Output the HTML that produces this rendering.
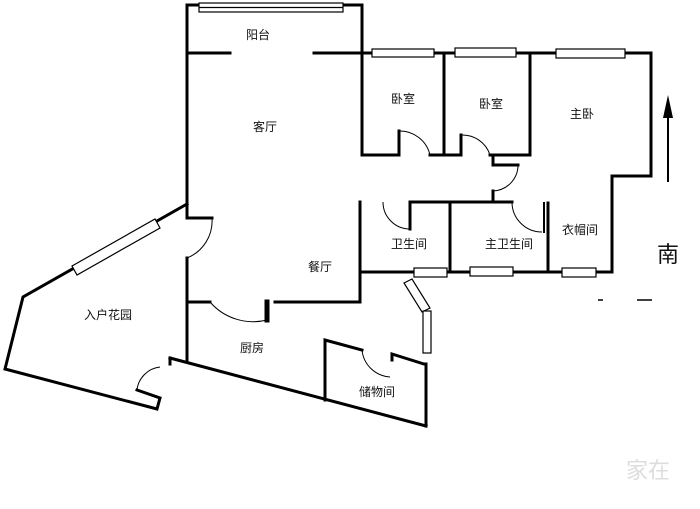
<!DOCTYPE html>
<html><head><meta charset="utf-8"><style>
html,body{margin:0;padding:0;background:#fff;}
svg{display:block}
text{font-family:"Liberation Sans","Noto Sans CJK SC",sans-serif;font-size:12px;fill:#111;text-anchor:middle;}
</style></head><body>
<svg width="700" height="509" viewBox="0 0 700 509" xmlns="http://www.w3.org/2000/svg">
<g stroke="#000" stroke-width="3" fill="none" stroke-linecap="square">
<!-- outer left/top -->
<polyline points="187,5 187,215"/>
<polyline points="187,5 362,5 362,155"/>
<polyline points="187,53 230,53"/>
<polyline points="314,53 651,53 651,176 612,176 612,272"/>
<!-- bedrooms -->
<polyline points="362,155 399,155 399,131"/>
<polyline points="430,155 444,155"/>
<line x1="444" y1="53" x2="444" y2="155"/>
<polyline points="444,155 461,155 461,135"/>
<polyline points="490,155 530,155 530,53"/>
<polyline points="493,155 493,165 518,165"/>
<line x1="493" y1="191" x2="493" y2="202"/>
<!-- bathrooms -->
<polyline points="410,229 410,202 512,202"/>
<line x1="360" y1="202" x2="360" y2="302"/>
<line x1="450" y1="202" x2="450" y2="272"/>
<line x1="544" y1="203" x2="544" y2="232" stroke-width="2"/>
<line x1="548" y1="203" x2="548" y2="272"/>
<line x1="360" y1="272" x2="612" y2="272"/>
<!-- left side -->
<line x1="187" y1="258" x2="187" y2="362"/>
<line x1="187" y1="218" x2="212" y2="218"/>
<polyline points="187,204 23,297 5,369 157,409 160,398 137,390"/>
<polyline points="170,358 170,364"/>
<line x1="170" y1="358" x2="426" y2="426"/>
<!-- kitchen/dining -->
<line x1="187" y1="302" x2="210" y2="302"/>
<line x1="267" y1="302" x2="267" y2="320" stroke-width="5"/>
<line x1="275" y1="302" x2="360" y2="302"/>
<!-- storage -->
<polyline points="325,400 325,340 362,350"/>
<polyline points="392,360 392,354 424,364 426,364 426,426"/>
</g>
<!-- door arcs -->
<g stroke="#000" stroke-width="1" fill="none">
<path d="M399,131 A31,31 0 0 1 430,155"/>
<path d="M461,135 A29,29 0 0 1 490,155"/>
<path d="M518,165 A26,26 0 0 1 493,191"/>
<path d="M383,202 A27,27 0 0 0 410,229"/>
<path d="M512,202 A30,30 0 0 0 542,232"/>
<path d="M212,218 A40,40 0 0 1 187,258"/>
<path d="M210,302 A57,57 0 0 0 267,320"/>
<path d="M137,390 A26,26 0 0 1 160,367"/>
<path d="M362,350 A30,30 0 0 0 390,377"/>
</g>
<!-- windows -->
<g stroke="#000" stroke-width="1.2" fill="#fff">
<rect x="199" y="3" width="144" height="9"/>
<line x1="199" y1="7.5" x2="343" y2="7.5"/>
<rect x="372" y="49" width="62" height="8"/>
<rect x="455" y="48" width="61" height="9"/>
<rect x="556" y="49" width="69" height="9"/>
<rect x="414" y="268" width="33" height="9"/>
<rect x="470" y="267" width="43" height="9"/>
<rect x="562" y="268" width="34" height="9"/>
<polygon points="72,266 155,219 160,228 77,275"/>
<polygon points="404,283 412,279 430,308 422,312"/>
<rect x="423" y="311" width="8" height="42"/>
</g>
<!-- north arrow -->
<line x1="668" y1="115" x2="668" y2="182" stroke="#000" stroke-width="2"/>
<polygon points="668,95 663,118 673,118" fill="#000"/>
<text x="668" y="262" style="font-size:22px">南</text>
<line x1="598" y1="300" x2="603" y2="300" stroke="#000" stroke-width="1.5"/>
<line x1="637" y1="300" x2="652" y2="300" stroke="#000" stroke-width="1.5"/>
<!-- labels -->
<text x="258" y="39">阳台</text>
<text x="265" y="131">客厅</text>
<text x="403" y="103">卧室</text>
<text x="491" y="108">卧室</text>
<text x="582" y="118">主卧</text>
<text x="409" y="248">卫生间</text>
<text x="509" y="248">主卫生间</text>
<text x="580" y="234">衣帽间</text>
<text x="320" y="271">餐厅</text>
<text x="108" y="319">入户花园</text>
<text x="252" y="352">厨房</text>
<text x="377" y="396">储物间</text>
<text x="648" y="478" style="font-size:22px;fill:#ddd">家在</text>
</svg>
</body></html>
